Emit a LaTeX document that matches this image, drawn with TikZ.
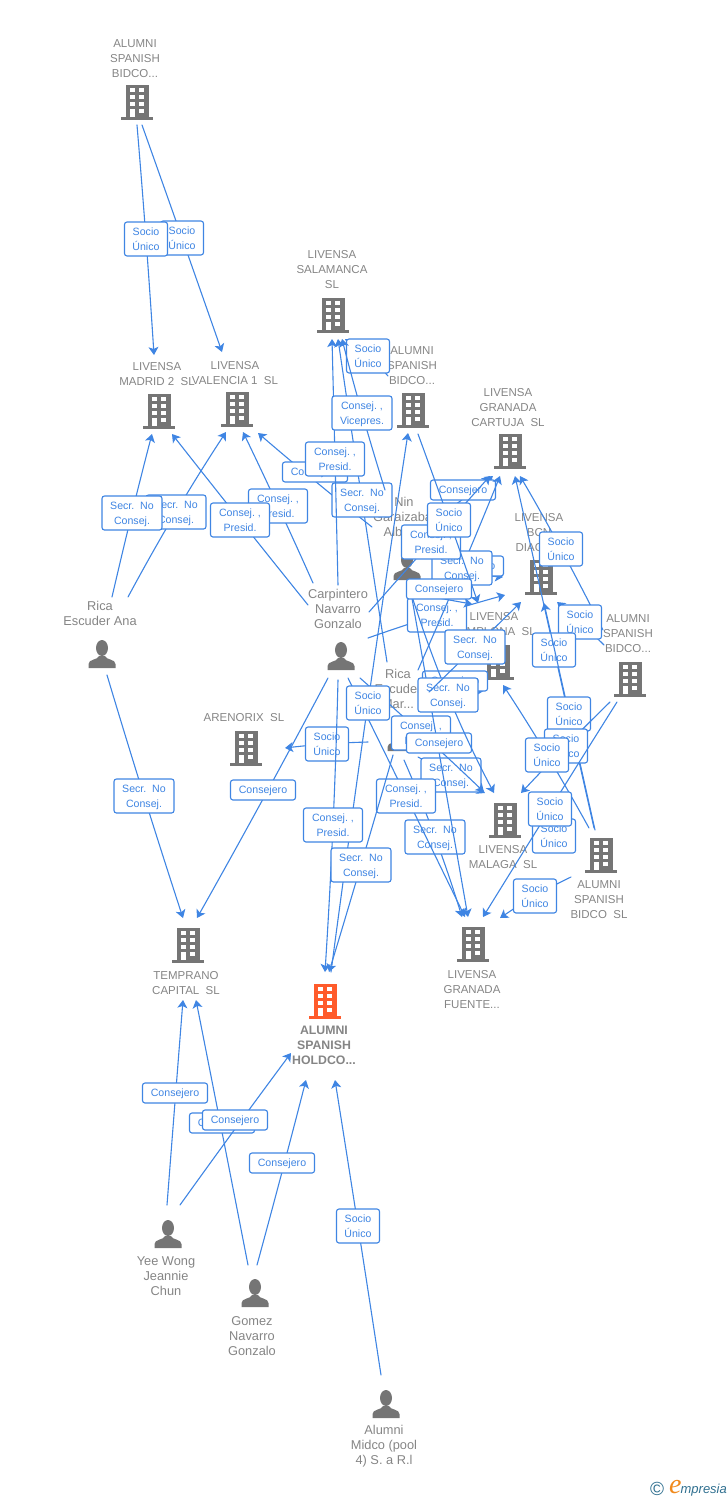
\documentclass[tikz,border=0pt]{standalone}
\usepackage{fontspec}
\setmainfont{Liberation Sans}
\newfontfamily\logoserif{Liberation Serif}
\usetikzlibrary{arrows.meta,calc}
\definecolor{icongray}{HTML}{757575}
\definecolor{textgray}{HTML}{858585}
\definecolor{hotorange}{HTML}{FF5B2B}
\definecolor{linkblue}{HTML}{3F85E3}
\definecolor{logoteal}{HTML}{2F6F8F}
\definecolor{logoorange}{HTML}{F08A1D}
\tikzset{>={Stealth[length=8pt,width=10pt,inset=2pt]},
  ico/.style={inner sep=0pt,minimum size=1pt},
  ent/.style={inner sep=0pt,align=center,text=textgray,yshift=-1pt,font=\fontsize{11.5}{15}\selectfont},
  hotent/.style={ent,font=\fontsize{12.3}{15}\selectfont\bfseries},
  who/.style={inner sep=0pt,align=center,text=textgray,font=\fontsize{12.8}{15}\selectfont},
  link/.style={->,linkblue,line width=1.1pt},
  rel/.style={draw=linkblue,line width=1.1pt,rounded corners=2.5pt,fill=white,text=linkblue,
    inner sep=0pt,align=center,font=\fontsize{10.6}{15}\selectfont},
  soc/.style={rel,text depth=-1.5pt,minimum width=43pt,minimum height=34pt},
  sec/.style={rel,text depth=-1.5pt,minimum width=60pt,minimum height=34pt},
  pres/.style={rel,text depth=-1.5pt,minimum width=59pt,minimum height=34pt},
  con/.style={rel,text depth=0pt,yshift=9pt,minimum width=65pt,minimum height=20pt},
  pics/bldg/.style={code={
    \fill[#1] (-11.5,-17.5) rectangle (11.5,15);
    \fill[#1] (-16,15) rectangle (16,17.5);
    \foreach \wy in {-14.5,-7.5,-0.5} {
      \fill[white] (-7.5,\wy) rectangle (-2.5,\wy+4.5);
      \fill[white] (2,\wy) rectangle (7,\wy+4.5);
    }
    \fill[white] (-7.5,6.5) rectangle (-2.5,15);
    \fill[white] (2,6.5) rectangle (7,11);
  }},
  pics/pers/.style={code={
    \fill[icongray] (0,-6) ellipse (6 and 8);
    \fill[icongray] (-3,2) .. controls (-4,6) and (-13.5,5) .. (-13.5,10) -- (-13.5,14)
      -- (13.5,14) -- (13.5,10) .. controls (13.5,5) and (4,6) .. (3,2) -- cycle;
  }}
}
% tail, head, middle of the line, label style, label name, text
\newcommand{\conn}[6]{
  \coordinate (ta) at (#1);
  \coordinate (hd) at (#2);
  \coordinate (mi) at (#3);
  \coordinate (cta) at ($4/3*(mi)-1/3*(hd)$);
  \coordinate (ctb) at ($4/3*(mi)-1/3*(ta)$);
  \draw[link] (ta) .. controls (cta) and (ctb) .. node[#4] (#5) {#6} (hd);
}
\newcommand{\soctxt}{Socio\\Único}
\newcommand{\sectxt}{Secr.\ \ No\\Consej.}
\newcommand{\prestxt}{Consej.\ ,\\Presid.}

\begin{document}
\begin{tikzpicture}[x=1pt,y=-1pt,line cap=round]
    \useasboundingbox (0,0) rectangle (728,1500);

    % companies
    \node[ico] (ab1) at (137,102) {};
    \node[ico] (lm2) at (159,411) {};
    \node[ico] (lv1) at (237,409) {};
    \node[ico] (lsa) at (333,315) {};
    \node[ico] (ab2) at (413,410) {};
    \node[ico] (lgc) at (510,451) {};
    \node[ico] (lbc) at (541,577) {};
    \node[ico] (lpa) at (498,662) {};
    \node[ico] (ab3) at (630,679) {};
    \node[ico] (abs) at (601,855) {};
    \node[ico] (are) at (246,748) {};
    \node[ico] (lma) at (505,820) {};
    \node[ico] (lgf) at (473,944) {};
    \node[ico] (tem) at (188,945) {};
    \node[ico] (hol) at (325,1001) {};
    \foreach \co in {ab1,lm2,lv1,lsa,ab2,lgc,lbc,lpa,ab3,abs,are,lma,lgf,tem}
      \pic at (\co) {bldg=icongray};
    \pic at (hol) {bldg=hotorange};

    % people
    \node[ico] (ran) at (102,654) {};
    \node[ico] (cng) at (341,656) {};
    \node[ico] (nin) at (407,566) {};
    \node[ico] (rma) at (401,737) {};
    \node[ico] (yee) at (168,1234) {};
    \node[ico] (gom) at (255,1293) {};
    \node[ico] (mid) at (386,1404) {};
    \foreach \pe in {ran,cng,nin,rma,yee,gom,mid}
      \pic at (\pe) {pers};

    % names
    \node[ent] (ab1t) at (135,57.5) {ALUMNI\\SPANISH\\BIDCO...};
    \node[ent] (lm2t) at (157,373) {LIVENSA\\MADRID 2\ \ SL};
    \node[ent] (lv1t) at (235,372) {LIVENSA\\VALENCIA 1\ \ SL};
    \node[ent] (lsat) at (332,269) {LIVENSA\\SALAMANCA\\SL};
    \node[ent] (ab2t) at (412,365) {ALUMNI\\SPANISH\\BIDCO...};
    \node[ent] (lgct) at (508,406.5) {LIVENSA\\GRANADA\\CARTUJA\ \ SL};
    \node[ent] (lbct) at (539,532) {LIVENSA\\BCN\\DIAGO...};
    \node[ent] (lpat) at (494,623.5) {LIVENSA\\PAMPLONA\ \ SL};
    \node[ent] (ab3t) at (628,633) {ALUMNI\\SPANISH\\BIDCO...};
    \node[ent] (abst) at (599,899) {ALUMNI\\SPANISH\\BIDCO\ \ SL};
    \node[ent] (aret) at (244,717) {ARENORIX\ \ SL};
    \node[ent] (lmat) at (503,856.5) {LIVENSA\\MALAGA\ \ SL};
    \node[ent] (lgft) at (472,989) {LIVENSA\\GRANADA\\FUENTE...};
    \node[ent] (temt) at (186,982.5) {TEMPRANO\\CAPITAL\ \ SL};
    \node[hotent] (holt) at (324,1044) {ALUMNI\\SPANISH\\HOLDCO...};
    \node[who] (rant) at (100,613.5) {Rica\\Escuder Ana};
    \node[who] (cngt) at (338,609) {Carpintero\\Navarro\\Gonzalo};
    \node[who] (nint) at (404,517) {Nin\\Garaizabal\\Alberto};
    \node[who] (rmat) at (398,689) {Rica\\Escuder\\Mar...};
    \node[who] (yeet) at (166,1276) {Yee Wong\\Jeannie\\Chun};
    \node[who] (gomt) at (252,1336) {Gomez\\Navarro\\Gonzalo};
    \node[who] (midt) at (384,1446) {Alumni\\Midco (pool\\4) S. a R.l};

    % left and top
    \conn{$(ab1)+(5,23)$}{$(lv1)+(-15,-57)$}{182,238}{soc}{r1}{\soctxt}
    \conn{$(ab1)+(0,23)$}{$(lm2)+(-5,-56)$}{146,239}{soc}{r2}{\soctxt}
    \conn{$(cng)+(-13,22)$}{$(tem)+(9,-27)$}{263,799}{con}{r3}{Consejero}
    \conn{$(ran)+(26,-57)$}{$(lv1)+(-11,23)$}{176,512}{sec}{r4}{\sectxt}
    \conn{$(ran)+(10,-57)$}{$(lm2)+(-7,23)$}{132,513}{sec}{r5}{\sectxt}
    \conn{$(ran)+(5,21)$}{$(tem)+(-5,-27)$}{144,796}{sec}{r6}{\sectxt}
    \conn{$(cng)+(-28,-73)$}{$(lv1)+(6,23)$}{278,506}{pres}{r7}{\prestxt}
    \conn{$(cng)+(-33,-51)$}{$(lm2)+(13,23)$}{240,520}{pres}{r8}{\prestxt}
    \conn{$(nin)+(-35,-39)$}{$(lv1)+(21,24)$}{315,481}{con}{r9}{Consejero}
    \conn{$(ab2)+(-25,-34)$}{$(lsa)+(12,24)$}{368,356}{soc}{r10}{\soctxt}
    \conn{$(rma)+(-14,-75)$}{$(lsa)+(5,24)$}{362,500}{sec}{r11}{\sectxt}
    \conn{$(cng)+(-3,-71)$}{$(lsa)+(-1,24)$}{335,459}{pres}{r12}{\prestxt}
    \conn{$(nin)+(-22,-76)$}{$(lsa)+(9,24)$}{362,413}{sec}{r13}{Consej.\ ,\\Vicepres.}

    % middle
    \conn{$(rma)+(-33,5)$}{$(are)+(39,0)$}{327,744}{soc}{r14}{\soctxt}
    \conn{$(cng)+(27,-18)$}{$(lbc)+(-36,18)$}{437,615}{pres}{r15}{\prestxt}
    \conn{$(nin)+(28,7)$}{$(lbc)+(-38,0)$}{471,575}{con}{r16}{Consejero}
    \conn{$(nin)+(25,-44)$}{$(lgc)+(-17,25)$}{463,499}{con}{r17}{Consejero}
    \conn{$(rma)+(24,-47)$}{$(lpa)+(-13,28)$}{455,690}{con}{r18}{Consejero}
    \conn{$(rma)+(17,-67)$}{$(lgc)+(-10,25)$}{462,568}{sec}{r19}{\sectxt}
    \conn{$(cng)+(28,-44)$}{$(lgc)+(-20,25)$}{431,542}{pres}{r20}{\prestxt}
    \conn{$(ab2)+(5,24)$}{$(lpa)+(-20,-59)$}{449,520}{soc}{r21}{\soctxt}
    \conn{$(rma)+(3,23)$}{$(lgf)+(-11,-27)$}{435,837}{sec}{r22}{\sectxt}
    \conn{$(rma)+(17,20)$}{$(lma)+(-20,-27)$}{451,775}{sec}{r23}{\sectxt}
    \conn{$(cng)+(7,22)$}{$(lgf)+(-8,-27)$}{406,796}{pres}{r24}{\prestxt}
    \conn{$(cng)+(19,22)$}{$(lma)+(-21,-28)$}{421,733}{pres}{r25}{\prestxt}
    \conn{$(nin)+(3,21)$}{$(lgf)+(-5,-27)$}{439,752}{con}{r26}{Consejero}
    \conn{$(nin)+(3,24)$}{$(lma)+(-11,-27)$}{448,695}{sec}{r27}{\sectxt}
    \conn{$(nin)+(3,26)$}{$(lpa)+(-26,-58)$}{439,598}{con}{r28}{Consejero}
    \conn{$(rma)+(28,-45)$}{$(lbc)+(-20,25)$}{475,647}{sec}{r29}{\sectxt}
    \conn{$(hol)+(6,-29)$}{$(ab2)+(-5,23)$}{368,703}{soc}{r30}{\soctxt}
    \conn{$(cng)+(-3,24)$}{$(hol)+(0,-29)$}{333,825}{pres}{r31}{\prestxt}
    \conn{$(rma)+(-8,18)$}{$(hol)+(4,-29)$}{361,865}{sec}{r32}{\sectxt}

    % right
    \conn{$(ab3)+(-27,-49)$}{$(lgc)+(10,25)$}{561,549}{soc}{r33}{\soctxt}
    \conn{$(ab3)+(-26,-34)$}{$(lbc)+(16,25)$}{580,622}{soc}{r34}{\soctxt}
    \conn{$(abs)+(-7,-27)$}{$(lgc)+(5,25)$}{554,650}{soc}{r35}{\soctxt}
    \conn{$(abs)+(-6,-25)$}{$(lbc)+(3,26)$}{569,714}{soc}{r36}{\soctxt}
    \conn{$(ab3)+(-20,23)$}{$(lma)+(16,-27)$}{566,746}{soc}{r37}{\soctxt}
    \conn{$(abs)+(-12,-27)$}{$(lpa)+(5,23)$}{547,755}{soc}{r38}{\soctxt}
    \conn{$(abs)+(-26,-25)$}{$(lma)+(30,22)$}{554,836}{soc}{r39}{\soctxt}
    \conn{$(ab3)+(-13,23)$}{$(lgf)+(10,-27)$}{550,809}{soc}{r40}{\soctxt}
    \conn{$(abs)+(-30,22)$}{$(lgf)+(27,-26)$}{535,896}{soc}{r41}{\soctxt}

    % bottom
    \conn{$(yee)+(-1,-29)$}{$(tem)+(-5,55)$}{175,1102}{con}{r42}{Consejero}
    \conn{$(gom)+(-7,-28)$}{$(tem)+(8,55)$}{222,1132}{con}{r43}{Consejero}
    \conn{$(yee)+(12,-29)$}{$(hol)+(-34,52)$}{235,1129}{con}{r44}{Consejero}
    \conn{$(gom)+(2,-28)$}{$(hol)+(-19,79)$}{282,1172}{con}{r45}{Consejero}
    \conn{$(mid)+(-5,-29)$}{$(hol)+(10,79)$}{358,1226}{soc}{r46}{\soctxt}

    % logo
    \node[inner sep=0pt,text=logoteal,font=\fontsize{19}{19}\selectfont] (logoc) at (657,1489) {©};
    \node[inner sep=0pt,anchor=base west,font=\fontsize{13}{13}\selectfont\itshape,text=logoteal] (logot) at (669,1493)
      {{\logoserif\fontsize{28}{28}\selectfont\color{logoorange}e}\kern-1pt mpresia};
\end{tikzpicture}
\end{document}
